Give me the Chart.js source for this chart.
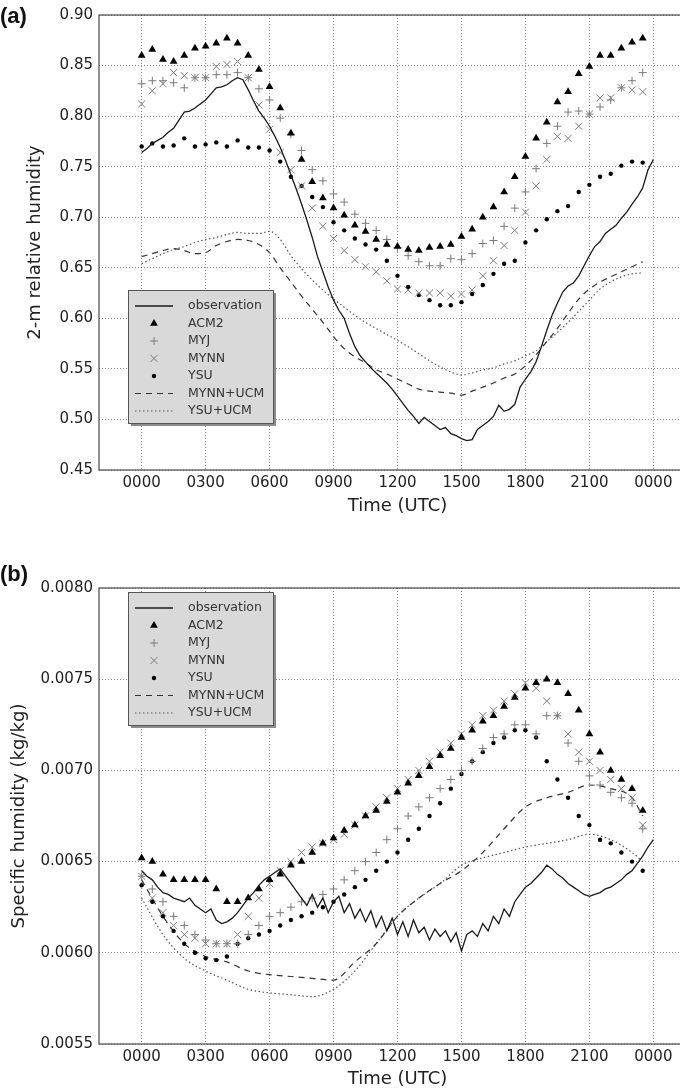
<!DOCTYPE html>
<html lang="en">
<head>
  <meta charset="UTF-8">
  <title>Relative and specific humidity</title>
  <script src="https://cdn.jsdelivr.net/npm/chart.js"></script>
  <style>
    body { margin: 0; background: #fff; }
    #wrap { position: relative; width: 680px; height: 1092px; overflow: hidden; background: #fff; }
    .panel { position: absolute; left: 0; width: 720px; }
    .tag {
      position: absolute; left: 0;
      font-family: "Liberation Sans", Arial, sans-serif;
      font-weight: bold; font-size: 22px; color: #111;
    }
  </style>
</head>
<body>
<div id="wrap">
  <div class="panel" style="top:0;height:540px"><canvas id="chartA" width="720" height="540"></canvas></div>
  <div class="panel" style="top:540px;height:552px"><canvas id="chartB" width="720" height="552"></canvas></div>
  <div class="tag" style="top:3px">(a)</div>
  <div class="tag" style="top:561px">(b)</div>
</div>

<script>
// ---- shared axis data ----
const timeTicks = [0, 3, 6, 9, 12, 15, 18, 21, 24];
const timeLabels = ['0000', '0300', '0600', '0900', '1200', '1500', '1800', '2100', '0000'];
const seriesNames = ['observation', 'ACM2', 'MYJ', 'MYNN', 'YSU', 'MYNN+UCM', 'YSU+UCM'];

// model output every half hour
const modelHours = [0, 0.5, 1, 1.5, 2, 2.5, 3, 3.5, 4, 4.5, 5, 5.5, 6, 6.5, 7, 7.5, 8, 8.5, 9, 9.5,
  10, 10.5, 11, 11.5, 12, 12.5, 13, 13.5, 14, 14.5, 15, 15.5, 16, 16.5, 17, 17.5, 18, 18.5, 19, 19.5,
  20, 20.5, 21, 21.5, 22, 22.5, 23, 23.5];
// observation every 15 min
const obsHours = [0, 0.25, 0.5, 0.75, 1, 1.25, 1.5, 1.75, 2, 2.25, 2.5, 2.75, 3, 3.25, 3.5, 3.75,
  4, 4.25, 4.5, 4.75, 5, 5.25, 5.5, 5.75, 6, 6.25, 6.5, 6.75, 7, 7.25, 7.5, 7.75, 8, 8.25, 8.5, 8.75,
  9, 9.25, 9.5, 9.75, 10, 10.25, 10.5, 10.75, 11, 11.25, 11.5, 11.75, 12, 12.25, 12.5, 12.75,
  13, 13.25, 13.5, 13.75, 14, 14.25, 14.5, 14.75, 15, 15.25, 15.5, 15.75, 16, 16.25, 16.5, 16.75,
  17, 17.25, 17.5, 17.75, 18, 18.25, 18.5, 18.75, 19, 19.25, 19.5, 19.75, 20, 20.25, 20.5, 20.75,
  21, 21.25, 21.5, 21.75, 22, 22.25, 22.5, 22.75, 23, 23.25, 23.5, 23.75, 24];

// ---- (a) 2-m relative humidity ----
const rhTicks = [0.45, 0.50, 0.55, 0.60, 0.65, 0.70, 0.75, 0.80, 0.85, 0.90];

const obsA = [0.764, 0.768, 0.773, 0.776, 0.779, 0.784, 0.788, 0.796, 0.804, 0.805, 0.808, 0.812,
  0.816, 0.822, 0.828, 0.829, 0.831, 0.835, 0.838, 0.836, 0.826, 0.815, 0.805, 0.798, 0.790, 0.780,
  0.769, 0.756, 0.742, 0.728, 0.713, 0.697, 0.680, 0.661, 0.646, 0.631, 0.618, 0.608, 0.600, 0.585,
  0.572, 0.563, 0.557, 0.551, 0.546, 0.541, 0.536, 0.530, 0.523, 0.516, 0.509, 0.503, 0.496, 0.502,
  0.498, 0.494, 0.490, 0.492, 0.486, 0.484, 0.481, 0.479, 0.480, 0.490, 0.494, 0.498, 0.503, 0.514,
  0.508, 0.510, 0.515, 0.532, 0.540, 0.547, 0.557, 0.572, 0.588, 0.603, 0.615, 0.626, 0.632, 0.635,
  0.642, 0.652, 0.662, 0.671, 0.676, 0.684, 0.688, 0.692, 0.699, 0.705, 0.713, 0.720, 0.729, 0.747, 0.757];
const acm2A = [0.860, 0.866, 0.856, 0.854, 0.860, 0.867, 0.869, 0.872, 0.877, 0.872, 0.860, 0.846,
  0.829, 0.808, 0.783, 0.757, 0.735, 0.719, 0.709, 0.702, 0.692, 0.686, 0.678, 0.673, 0.671, 0.668,
  0.667, 0.670, 0.671, 0.673, 0.681, 0.688, 0.700, 0.710, 0.725, 0.740, 0.760, 0.778, 0.794, 0.814,
  0.824, 0.842, 0.849, 0.860, 0.860, 0.867, 0.873, 0.877];
const myjA = [0.832, 0.835, 0.835, 0.833, 0.828, 0.838, 0.838, 0.841, 0.841, 0.843, 0.838, 0.827,
  0.816, 0.798, 0.782, 0.766, 0.747, 0.736, 0.723, 0.715, 0.703, 0.694, 0.687, 0.678, 0.670, 0.662,
  0.656, 0.652, 0.652, 0.659, 0.658, 0.664, 0.674, 0.677, 0.691, 0.709, 0.725, 0.748, 0.773, 0.790,
  0.804, 0.805, 0.802, 0.809, 0.816, 0.828, 0.835, 0.843];
const mynnA = [0.812, 0.825, 0.832, 0.843, 0.840, 0.838, 0.838, 0.849, 0.851, 0.854, 0.838, 0.811,
  0.787, 0.764, 0.747, 0.731, 0.709, 0.691, 0.679, 0.667, 0.658, 0.651, 0.646, 0.637, 0.629, 0.628,
  0.625, 0.625, 0.625, 0.622, 0.624, 0.628, 0.642, 0.657, 0.672, 0.687, 0.705, 0.731, 0.757, 0.780,
  0.778, 0.790, 0.802, 0.818, 0.818, 0.828, 0.826, 0.824];
const ysuA = [0.770, 0.773, 0.770, 0.771, 0.778, 0.770, 0.772, 0.774, 0.770, 0.776, 0.769, 0.769,
  0.766, 0.755, 0.740, 0.731, 0.720, 0.710, 0.695, 0.687, 0.679, 0.673, 0.668, 0.657, 0.642, 0.631,
  0.623, 0.618, 0.613, 0.613, 0.616, 0.624, 0.633, 0.644, 0.654, 0.657, 0.675, 0.687, 0.698, 0.706,
  0.711, 0.725, 0.732, 0.740, 0.743, 0.751, 0.755, 0.754];
const mynnUcmA = [0.661, 0.664, 0.667, 0.669, 0.667, 0.664, 0.665, 0.672, 0.676, 0.678, 0.677, 0.673,
  0.665, 0.650, 0.636, 0.622, 0.609, 0.596, 0.582, 0.570, 0.562, 0.556, 0.549, 0.545, 0.540, 0.535,
  0.530, 0.528, 0.527, 0.526, 0.524, 0.528, 0.532, 0.536, 0.541, 0.545, 0.553, 0.564, 0.577, 0.590,
  0.605, 0.619, 0.629, 0.636, 0.641, 0.646, 0.651, 0.656];
const ysuUcmA = [0.654, 0.659, 0.664, 0.668, 0.671, 0.675, 0.678, 0.680, 0.683, 0.685, 0.684, 0.684,
  0.686, 0.678, 0.662, 0.649, 0.638, 0.628, 0.619, 0.611, 0.603, 0.596, 0.590, 0.584, 0.578, 0.572,
  0.565, 0.558, 0.552, 0.547, 0.544, 0.546, 0.549, 0.551, 0.555, 0.558, 0.563, 0.568, 0.577, 0.586,
  0.596, 0.607, 0.618, 0.629, 0.636, 0.641, 0.644, 0.645];

// ---- (b) specific humidity ----
const qTicks = [0.0055, 0.0060, 0.0065, 0.0070, 0.0075, 0.0080];

const obsB = [0.00645, 0.00642, 0.00640, 0.00636, 0.00633, 0.00632, 0.00630, 0.00629, 0.00628, 0.00630,
  0.00626, 0.00624, 0.00622, 0.00624, 0.00618, 0.00616, 0.00617, 0.00619, 0.00622, 0.00626, 0.00630,
  0.00633, 0.00637, 0.00640, 0.00642, 0.00644, 0.00646, 0.00642, 0.00638, 0.00634, 0.00630, 0.00626,
  0.00632, 0.00625, 0.00630, 0.00622, 0.00628, 0.00631, 0.00622, 0.00627, 0.00619, 0.00624, 0.00617,
  0.00623, 0.00614, 0.00620, 0.00612, 0.00619, 0.00610, 0.00617, 0.00609, 0.00618, 0.00611, 0.00614,
  0.00607, 0.00613, 0.00609, 0.00612, 0.00606, 0.00611, 0.00601, 0.00610, 0.00612, 0.00609, 0.00616,
  0.00612, 0.00620, 0.00616, 0.00624, 0.00620, 0.00628, 0.00632, 0.00636, 0.00638, 0.00641, 0.00644,
  0.00648, 0.00646, 0.00643, 0.00641, 0.00638, 0.00636, 0.00634, 0.00632, 0.00631, 0.00632, 0.00633,
  0.00635, 0.00636, 0.00638, 0.00640, 0.00643, 0.00645, 0.00649, 0.00653, 0.00658, 0.00662];
const acm2B = [0.00652, 0.00650, 0.00643, 0.00640, 0.00640, 0.00640, 0.00640, 0.00635, 0.00628, 0.00628,
  0.00630, 0.00635, 0.00640, 0.00643, 0.00648, 0.00650, 0.00655, 0.00660, 0.00663, 0.00667, 0.00670,
  0.00675, 0.00678, 0.00683, 0.00688, 0.00693, 0.00697, 0.00702, 0.00708, 0.00712, 0.00718, 0.00722,
  0.00727, 0.00730, 0.00735, 0.00740, 0.00745, 0.00748, 0.00750, 0.00748, 0.00742, 0.00733, 0.00720,
  0.00710, 0.00700, 0.00695, 0.00690, 0.00678];
const myjB = [0.00642, 0.00635, 0.00628, 0.00620, 0.00615, 0.00610, 0.00607, 0.00605, 0.00605, 0.00605,
  0.00610, 0.00615, 0.00620, 0.00622, 0.00625, 0.00628, 0.00630, 0.00632, 0.00635, 0.00640, 0.00645,
  0.00650, 0.00655, 0.00662, 0.00668, 0.00675, 0.00680, 0.00685, 0.00690, 0.00695, 0.00700, 0.00705,
  0.00712, 0.00718, 0.00720, 0.00725, 0.00725, 0.00720, 0.00730, 0.00730, 0.00715, 0.00705, 0.00697,
  0.00692, 0.00688, 0.00685, 0.00682, 0.00668];
const mynnB = [0.00642, 0.00630, 0.00622, 0.00615, 0.00610, 0.00608, 0.00605, 0.00605, 0.00605, 0.00610,
  0.00620, 0.00630, 0.00638, 0.00645, 0.00650, 0.00655, 0.00658, 0.00660, 0.00662, 0.00665, 0.00670,
  0.00675, 0.00680, 0.00685, 0.00690, 0.00695, 0.00700, 0.00705, 0.00710, 0.00715, 0.00720, 0.00725,
  0.00730, 0.00733, 0.00738, 0.00742, 0.00748, 0.00745, 0.00738, 0.00730, 0.00720, 0.00710, 0.00705,
  0.00700, 0.00695, 0.00690, 0.00685, 0.00670];
const ysuB = [0.00637, 0.00628, 0.00620, 0.00612, 0.00605, 0.00600, 0.00597, 0.00596, 0.00598, 0.00605,
  0.00608, 0.00610, 0.00612, 0.00615, 0.00618, 0.00620, 0.00622, 0.00625, 0.00628, 0.00632, 0.00636,
  0.00640, 0.00645, 0.00650, 0.00655, 0.00662, 0.00668, 0.00675, 0.00682, 0.00690, 0.00698, 0.00705,
  0.00710, 0.00715, 0.00718, 0.00722, 0.00722, 0.00718, 0.00705, 0.00695, 0.00685, 0.00675, 0.00670,
  0.00662, 0.00660, 0.00655, 0.00650, 0.00645];
const ucmHoursB = [0, 1, 2, 3, 4, 5, 6, 7, 8, 9, 10, 11, 12, 13, 14, 15, 16, 17, 18, 19, 20, 21, 22, 23, 23.5];
const mynnUcmB = [0.00640, 0.00620, 0.00605, 0.00598, 0.00595, 0.00590, 0.00588, 0.00587, 0.00586, 0.00585,
  0.00595, 0.00605, 0.00620, 0.00630, 0.00638, 0.00645, 0.00655, 0.00668, 0.00680, 0.00685, 0.00688,
  0.00692, 0.00690, 0.00685, 0.00675];
const ysuUcmB = [0.00630, 0.00610, 0.00597, 0.00590, 0.00585, 0.00580, 0.00578, 0.00577, 0.00576, 0.00580,
  0.00590, 0.00605, 0.00620, 0.00630, 0.00638, 0.00648, 0.00652, 0.00655, 0.00658, 0.00660, 0.00662,
  0.00665, 0.00662, 0.00655, 0.00650];

// ---- helpers ----
const FONT = '"DejaVu Sans", sans-serif';
const pts = (xs, ys) => xs.map((x, i) => ({ x: x, y: ys[i] }));

function lineSet(label, xs, ys, color, dash, width) {
  return {
    label, data: pts(xs, ys), borderColor: color, borderWidth: width,
    borderDash: dash, pointRadius: 0, fill: false, tension: 0, showLine: true
  };
}
function smoothSet(label, xs, ys, color, dash) {
  const s = lineSet(label, xs, ys, color, dash, 1.2);
  s.cubicInterpolationMode = 'monotone';
  return s;
}
function markSet(label, xs, ys, style, radius, color, filled) {
  return {
    label, data: pts(xs, ys), showLine: false, pointStyle: style, pointRadius: radius,
    pointBorderWidth: filled ? 0 : 1, borderColor: color, pointBorderColor: color,
    backgroundColor: color, pointBackgroundColor: filled ? color : 'transparent'
  };
}

// axes frame like matplotlib
const framePlugin = {
  id: 'frame',
  afterDatasetsDraw(chart) {
    const { ctx, chartArea: a } = chart;
    ctx.save();
    ctx.strokeStyle = '#555';
    ctx.lineWidth = 1.3;
    ctx.strokeRect(a.left, a.top, a.right - a.left, a.bottom - a.top);
    ctx.restore();
  }
};

// grey boxed legend inside the axes
const boxLegend = {
  id: 'boxLegend',
  afterDraw(chart, args, o) {
    const ctx = chart.ctx;
    ctx.save();
    ctx.fillStyle = '#8c8c8c';
    ctx.fillRect(o.x + 3, o.y + 3, o.w, o.h);
    ctx.fillStyle = '#d9d9d9';
    ctx.fillRect(o.x, o.y, o.w, o.h);
    ctx.strokeStyle = '#555';
    ctx.lineWidth = 1;
    ctx.strokeRect(o.x + 0.5, o.y + 0.5, o.w, o.h);
    ctx.font = '12.5px ' + FONT;
    ctx.textBaseline = 'middle';
    ctx.textAlign = 'left';
    chart.data.datasets.forEach((ds, i) => {
      const cy = o.y + o.first + i * o.gap;
      if (ds.showLine) {
        ctx.strokeStyle = ds.borderColor;
        ctx.lineWidth = ds.borderWidth;
        ctx.setLineDash(ds.borderDash || []);
        ctx.beginPath();
        ctx.moveTo(o.x + 7, cy);
        ctx.lineTo(o.x + 45, cy);
        ctx.stroke();
        ctx.setLineDash([]);
      } else {
        ctx.fillStyle = ds.pointBackgroundColor;
        ctx.strokeStyle = ds.pointBorderColor;
        ctx.lineWidth = ds.pointBorderWidth;
        Chart.helpers.drawPoint(ctx, {
          pointStyle: ds.pointStyle, radius: ds.pointRadius, rotation: 0,
          borderWidth: ds.pointBorderWidth
        }, o.x + 26, cy);
      }
      ctx.fillStyle = '#333';
      ctx.fillText(ds.label, o.x + 60, cy);
    });
    ctx.restore();
  }
};

function makeChart(id, datasets, yTicks, yDigits, yTitle, lay) {
  return new Chart(document.getElementById(id), {
    type: 'scatter',
    data: { datasets },
    plugins: [framePlugin, boxLegend],
    options: {
      responsive: false,
      animation: false,
      events: [],
      layout: { padding: { left: 0, top: lay.top, right: 24, bottom: 0 } },
      plugins: {
        legend: { display: false },
        tooltip: { enabled: false },
        boxLegend: lay.legend
      },
      scales: {
        x: {
          type: 'linear', min: -2, max: 26,
          afterBuildTicks: s => { s.ticks = timeTicks.map(v => ({ value: v })); },
          afterFit: s => { s.height = lay.xHeight; },
          ticks: {
            callback: v => timeLabels[timeTicks.indexOf(v)],
            font: { family: FONT, size: 15 }, color: '#222', padding: 4, maxRotation: 0
          },
          grid: { color: 'rgba(0,0,0,0.45)', lineWidth: 1, drawTicks: false },
          border: { display: false, dash: [1, 2] },
          title: {
            display: true, text: 'Time (UTC)', color: '#222',
            font: { family: FONT, size: 18 }, padding: { top: 0, bottom: lay.xTitlePad }
          }
        },
        y: {
          type: 'linear', min: yTicks[0], max: yTicks[yTicks.length - 1],
          afterBuildTicks: s => { s.ticks = yTicks.map(v => ({ value: v })); },
          afterFit: s => { s.width = 99; },
          ticks: {
            callback: v => v.toFixed(yDigits),
            font: { family: FONT, size: 15 }, color: '#222', padding: 6
          },
          grid: { color: 'rgba(0,0,0,0.45)', lineWidth: 1, drawTicks: false },
          border: { display: false, dash: [1, 2] },
          title: {
            display: true, text: yTitle, color: '#222',
            font: { family: FONT, size: 18 }, padding: { top: lay.yTitlePad, bottom: 0 }
          }
        }
      }
    }
  });
}

function buildSets(obsY, a, mj, mn, ys, ucmX, mu, yu) {
  return [
    lineSet(seriesNames[0], obsHours, obsY, '#1a1a1a', [], 1.3),
    markSet(seriesNames[1], modelHours, a, 'triangle', 4.5, '#000', true),
    markSet(seriesNames[2], modelHours, mj, 'cross', 4, '#7a7a7a', false),
    markSet(seriesNames[3], modelHours, mn, 'crossRot', 5, '#7a7a7a', false),
    markSet(seriesNames[4], modelHours, ys, 'circle', 2.2, '#000', true),
    smoothSet(seriesNames[5], ucmX, mu, '#333', [6, 5]),
    smoothSet(seriesNames[6], ucmX, yu, '#555', [1.5, 2.5])
  ];
}

const chartA = makeChart('chartA',
  buildSets(obsA, acm2A, myjA, mynnA, ysuA, modelHours, mynnUcmA, ysuUcmA),
  rhTicks, 2, '2-m relative humidity',
  { top: 13, xHeight: 70, xTitlePad: 23, yTitlePad: 25,
    legend: { x: 128, y: 290, w: 145, h: 133, first: 16, gap: 17.5 } });

const chartB = makeChart('chartB',
  buildSets(obsB, acm2B, myjB, mynnB, ysuB, ucmHoursB, mynnUcmB, ysuUcmB),
  qTicks, 4, 'Specific humidity (kg/kg)',
  { top: 48, xHeight: 48, xTitlePad: 2, yTitlePad: 9,
    legend: { x: 128, y: 52, w: 145, h: 133, first: 16, gap: 17.5 } });
</script>
</body>
</html>
